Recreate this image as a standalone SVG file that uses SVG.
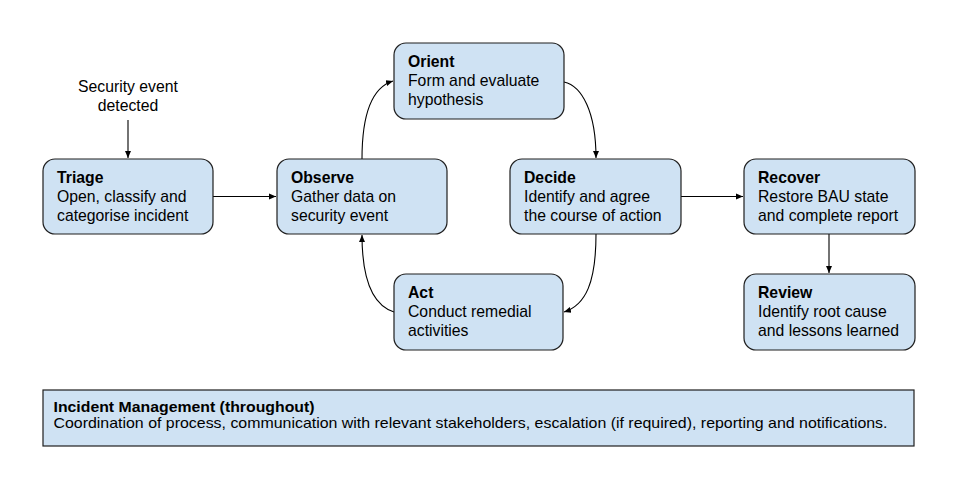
<svg xmlns="http://www.w3.org/2000/svg" width="959" height="490" viewBox="0 0 959 490">
<defs>
<style>
.box{fill:#cfe2f3;stroke:#1f1f1f;stroke-width:1.2}
.t{font-family:"Liberation Sans",Arial,sans-serif;font-size:15.75px;fill:#000}
.b{font-weight:bold}
.c{fill:none;stroke:#000;stroke-width:1.1}
.bt{font-family:"Liberation Sans",Arial,sans-serif;font-size:15px;fill:#000}
</style>
<marker id="ah" markerUnits="userSpaceOnUse" markerWidth="8" markerHeight="8" viewBox="0 0 8 8" refX="7" refY="4" orient="auto">
<path d="M0,1 L7,4 L0,7 Z" fill="#000"/>
</marker>
</defs>
<rect width="959" height="490" fill="#fff"/>
<g id="connectors">
<line class="c" x1="128" y1="120" x2="128" y2="158" marker-end="url(#ah)"/>
<line class="c" x1="213" y1="196.5" x2="276" y2="196.5" marker-end="url(#ah)"/>
<path class="c" d="M362,159 C362,118 370,88 393,81" marker-end="url(#ah)"/>
<path class="c" d="M564,82 C582,86 596,112 596,158" marker-end="url(#ah)"/>
<path class="c" d="M596,234 C596,282 586,305 564,312" marker-end="url(#ah)"/>
<path class="c" d="M394,312 C372,305 362,278 362,235" marker-end="url(#ah)"/>
<line class="c" x1="681" y1="196.5" x2="743" y2="196.5" marker-end="url(#ah)"/>
<line class="c" x1="829" y1="234" x2="829" y2="273" marker-end="url(#ah)"/>
</g>
<g id="start">
<text class="t" x="128" y="91.5" text-anchor="middle">Security event</text>
<text class="t" x="128" y="110.5" text-anchor="middle">detected</text>
</g>
<g id="triage">
<rect class="box" x="43" y="159" width="170" height="75" rx="12"/>
<text class="t b" x="57" y="183">Triage</text>
<text class="t" x="57" y="202">Open, classify and</text>
<text class="t" x="57" y="221">categorise incident</text>
</g>
<g id="observe">
<rect class="box" x="277" y="159" width="170" height="75" rx="12"/>
<text class="t b" x="291" y="183">Observe</text>
<text class="t" x="291" y="202">Gather data on</text>
<text class="t" x="291" y="221">security event</text>
</g>
<g id="orient">
<rect class="box" x="394" y="43" width="170" height="76" rx="12"/>
<text class="t b" x="408" y="67">Orient</text>
<text class="t" x="408" y="86">Form and evaluate</text>
<text class="t" x="408" y="105">hypothesis</text>
</g>
<g id="decide">
<rect class="box" x="510" y="159" width="171" height="75" rx="12"/>
<text class="t b" x="524" y="183">Decide</text>
<text class="t" x="524" y="202">Identify and agree</text>
<text class="t" x="524" y="221">the course of action</text>
</g>
<g id="act">
<rect class="box" x="394" y="274" width="169" height="76" rx="12"/>
<text class="t b" x="408" y="298">Act</text>
<text class="t" x="408" y="317">Conduct remedial</text>
<text class="t" x="408" y="336">activities</text>
</g>
<g id="recover">
<rect class="box" x="744" y="159" width="171" height="75" rx="12"/>
<text class="t b" x="758" y="183">Recover</text>
<text class="t" x="758" y="202">Restore BAU state</text>
<text class="t" x="758" y="221">and complete report</text>
</g>
<g id="review">
<rect class="box" x="744" y="274" width="171" height="76" rx="12"/>
<text class="t b" x="758" y="298">Review</text>
<text class="t" x="758" y="317">Identify root cause</text>
<text class="t" x="758" y="336">and lessons learned</text>
</g>
<g id="incident-management">
<rect class="box" x="43" y="390" width="871" height="56"/>
<text class="bt b" x="53.5" y="412" textLength="261" lengthAdjust="spacingAndGlyphs">Incident Management (throughout)</text>
<text class="bt" x="53.5" y="428" textLength="834" lengthAdjust="spacingAndGlyphs">Coordination of process, communication with relevant stakeholders, escalation (if required), reporting and notifications.</text>
</g>
</svg>
